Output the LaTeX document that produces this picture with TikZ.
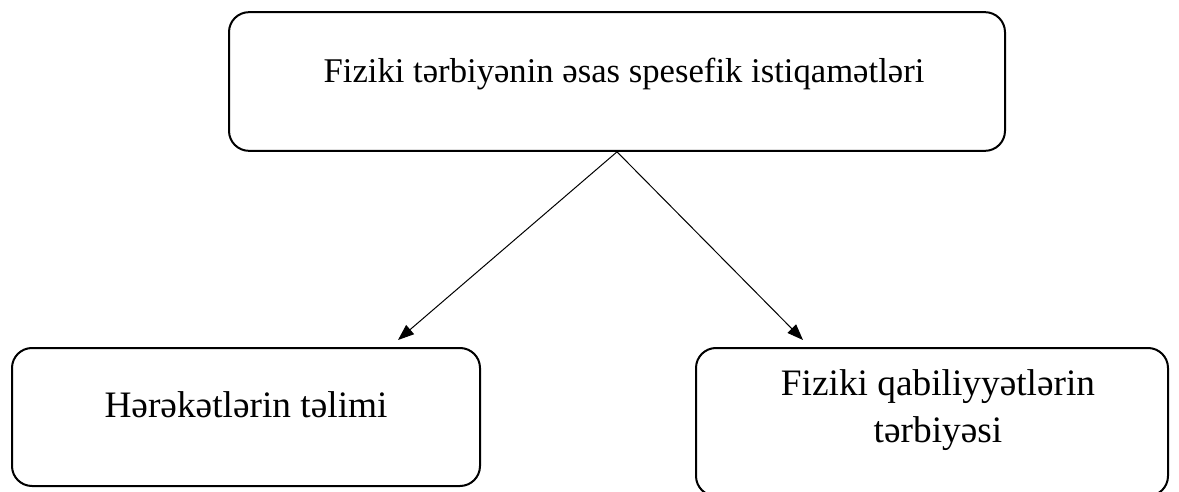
\documentclass[tikz,border=0pt]{standalone}
\usepackage{fontspec}
\setmainfont{Liberation Serif}
\usetikzlibrary{positioning,calc,arrows.meta}

\tikzset{
    roundbox/.style={draw, line width=1.5pt, rounded corners=15pt, inner sep=0pt},
    boxtext/.style={anchor=base, font=\fontsize{28}{35.25}\selectfont, align=center},
    branch/.style={line width=0.75pt, -{Triangle[length=12pt,width=9pt]}}
}

\begin{document}
\begin{tikzpicture}[x=0.75pt,y=-0.75pt]
            \useasboundingbox (0,0) rectangle (1179,492);

            % boxes
            \node[roundbox, minimum width=582pt, minimum height=104pt] (topBox) at (617,81.5) {};
            \node[roundbox, minimum width=351pt, minimum height=103.5pt] (leftBox) at (246,417) {};
            \node[roundbox, minimum width=354pt, minimum height=111pt] (rightBox) at (932,422) {};

            % texts
            \node[boxtext, font=\fontsize{26}{32}\selectfont] (topText) at (624,83) {Fiziki tərbiyənin əsas spesefik istiqamətləri};
            \node[boxtext] (leftText) at (246,417) {Hərəkətlərin təlimi};
            \node[boxtext] (rightText) at (938,442) {Fiziki qabiliyyətlərin\\tərbiyəsi};

            % arrows
            \coordinate (fork) at (topBox.south);
            \coordinate (leftTip) at ($(leftBox.north)+(152,-7)$);
            \coordinate (rightTip) at ($(rightBox.north)+(-129,-7)$);
            \draw[branch] (fork) -- (leftTip);
            \draw[branch] (fork) -- (rightTip);
\end{tikzpicture}
\end{document}
